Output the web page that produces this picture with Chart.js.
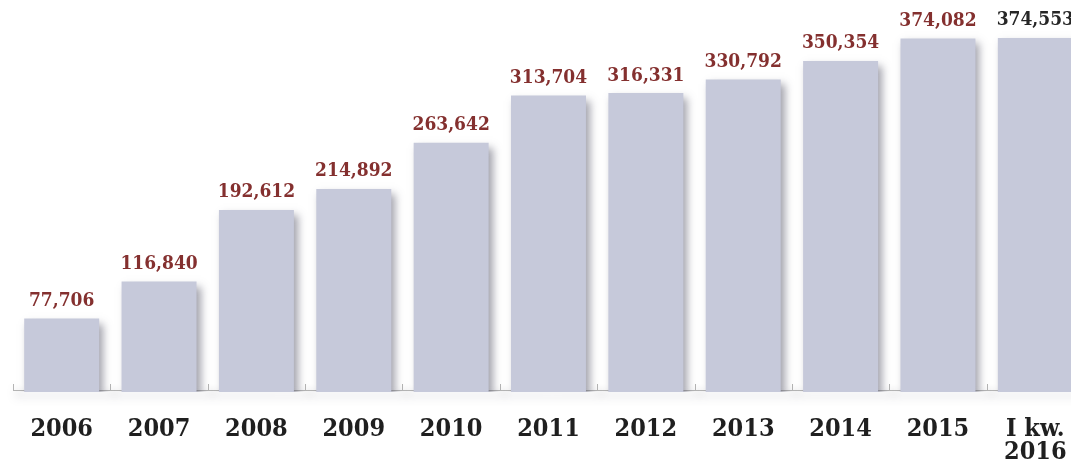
<!DOCTYPE html>
<html>
<head>
<meta charset="utf-8">
<script src="https://cdn.jsdelivr.net/npm/chart.js@4"></script>
<style>
    html, body { margin: 0; padding: 0; background: #fff; overflow: hidden; }
    #wrap { width: 1084px; height: 469px; }
</style>
</head>
<body>
<div id="wrap"><canvas id="yearChart"></canvas></div>
<script>
// Data
const years = ['2006', '2007', '2008', '2009', '2010', '2011', '2012', '2013', '2014', '2015', ['I kw.', '2016']];
const totals = [77706, 116840, 192612, 214892, 263642, 313704, 316331, 330792, 350354, 374082, 374553];

// Colors
const colors = {
    bar: '#c6c9da',
    value: '#84302f',
    valueLast: '#262626',
    axis: '#b4b4b4',
    label: '#1f1f1f'
};

// Soft drop shadow under the bars
const barShadow = {
    id: 'barShadow',
    beforeDatasetsDraw(chart) {
        const ctx = chart.ctx;
        ctx.save();
        ctx.shadowColor = 'rgba(70, 70, 90, 0.5)';
        ctx.shadowBlur = 8;
        ctx.shadowOffsetX = 4;
        ctx.shadowOffsetY = 5;
    },
    afterDatasetsDraw(chart) {
        chart.ctx.restore();
    }
};

// Baseline with small upward ticks between categories
const baseline = {
    id: 'baseline',
    beforeDatasetsDraw(chart) {
        const ctx = chart.ctx;
        const x = chart.scales.x;
        const y = chart.scales.y.getPixelForValue(0) - 2;
        const half = (x.getPixelForValue(1) - x.getPixelForValue(0)) / 2;
        ctx.save();
        ctx.strokeStyle = colors.axis;
        ctx.lineWidth = 1;
        ctx.beginPath();
        ctx.moveTo(chart.chartArea.left, y + 0.5);
        ctx.lineTo(chart.chartArea.right, y + 0.5);
        for (let i = 0; i <= years.length; i++) {
            const px = Math.round(x.getPixelForValue(i) - half) + 0.5;
            ctx.moveTo(px, y);
            ctx.lineTo(px, y - 6);
        }
        ctx.stroke();
        ctx.restore();
    }
};

// Value labels above each bar
const valueLabels = {
    id: 'valueLabels',
    afterDatasetsDraw(chart) {
        const ctx = chart.ctx;
        const bars = chart.getDatasetMeta(0).data;
        ctx.save();
        ctx.font = 'bold 19px "DejaVu Serif Condensed", "DejaVu Serif", serif';
        ctx.textAlign = 'center';
        ctx.textBaseline = 'bottom';
        bars.forEach((bar, i) => {
            ctx.fillStyle = i === bars.length - 1 ? colors.valueLast : colors.value;
            ctx.fillText(totals[i].toLocaleString('en-US'), bar.x, bar.y - 8);
        });
        ctx.restore();
    }
};

new Chart(document.getElementById('yearChart'), {
    type: 'bar',
    data: {
        labels: years,
        datasets: [{
            data: totals,
            backgroundColor: colors.bar,
            borderWidth: 0,
            categoryPercentage: 1,
            barPercentage: 0.77
        }]
    },
    options: {
        responsive: true,
        maintainAspectRatio: false,
        animation: false,
        layout: {
            padding: { left: 13, right: 0, top: 14, bottom: 3 }
        },
        plugins: {
            legend: { display: false },
            tooltip: { enabled: false }
        },
        scales: {
            y: {
                display: false,
                min: 0,
                max: 400000
            },
            x: {
                // invisible tick marks only reserve space above the labels
                grid: {
                    display: true,
                    drawOnChartArea: false,
                    drawTicks: true,
                    tickLength: 24,
                    color: 'rgba(0, 0, 0, 0)'
                },
                border: { display: false },
                ticks: {
                    color: colors.label,
                    padding: 2,
                    maxRotation: 0,
                    autoSkip: false,
                    font: {
                        family: '"DejaVu Serif Condensed", "DejaVu Serif", serif',
                        weight: 'bold',
                        size: 25,
                        lineHeight: '23px'
                    }
                }
            }
        }
    },
    plugins: [barShadow, baseline, valueLabels]
});
</script>
</body>
</html>
